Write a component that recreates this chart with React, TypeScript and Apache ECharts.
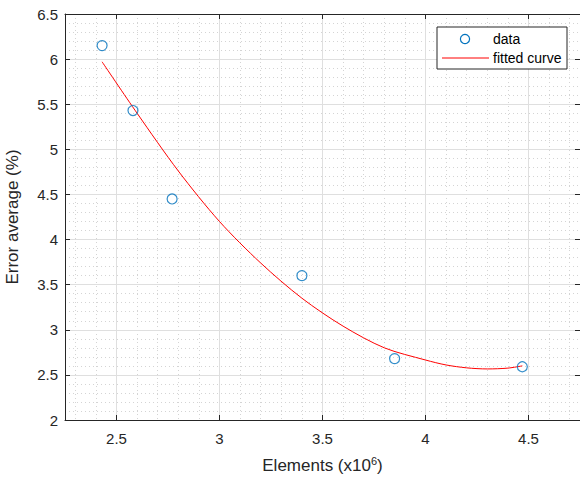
import React, { useEffect, useRef } from "react";
import * as echarts from "echarts";

const dataX = [2.43, 2.58, 2.77, 3.4, 3.85, 4.47];
const dataY = [6.15, 5.43, 4.45, 3.6, 2.68, 2.59];

const curveX = [2.43, 2.6, 2.8, 3.0, 3.2, 3.4, 3.6, 3.8, 4.0, 4.1, 4.2, 4.3, 4.4, 4.47];
const curveY = [5.97, 5.4, 4.76, 4.2, 3.74, 3.35, 3.04, 2.8, 2.665, 2.61, 2.578, 2.566, 2.575, 2.6];

const xMajorTicks = [2.5, 3, 3.5, 4, 4.5];
const xMinorTicks = [2.3, 2.4, 2.5, 2.6, 2.7, 2.8, 2.9, 3.0, 3.1, 3.2, 3.3, 3.4, 3.5, 3.6, 3.7, 3.8, 3.9, 4.0, 4.1, 4.2, 4.3, 4.4, 4.5, 4.6, 4.7];

const legendLabels = ["data", "fitted curve"];
const xTitle = "Elements (x10{sup|6})";
const yTitle = "Error average (%)";

const FONT = "'Liberation Sans', Arial, Helvetica, sans-serif";
const AX = "#262626";
const BLUE = "#0072BD";
const RED = "#FF0000";

export default function App() {
  const ref = useRef<HTMLDivElement>(null);
  useEffect(() => {
    if (!ref.current) return;
    const chart = echarts.init(ref.current, undefined, { renderer: "svg" });
    const xRange = { min: 2.25, max: 4.75 };
    chart.setOption({
      animation: false,
      backgroundColor: "#fff",
      textStyle: { fontFamily: FONT },
      grid: { left: 65, top: 14, right: 0, bottom: 59, containLabel: false, outerBoundsMode: "none" },
      xAxis: [
        {
          type: "value",
          ...xRange,
          position: "bottom",
          name: xTitle,
          nameLocation: "middle",
          nameGap: 35,
          nameTextStyle: {
            fontSize: 17,
            color: AX,
            fontFamily: FONT,
            rich: { sup: { fontSize: 11, color: AX, fontFamily: FONT, verticalAlign: "top", padding: [0, 0, 10, 0] } },
          },
          axisLine: { show: true, lineStyle: { color: AX, width: 1 } },
          axisTick: { show: true, inside: true, length: 5, customValues: xMajorTicks, lineStyle: { color: AX } },
          axisLabel: { show: true, customValues: xMajorTicks, fontSize: 15, color: AX, margin: 11, fontFamily: FONT },
          splitLine: { show: true, lineStyle: { color: "#dfdfdf", width: 1 } },
          z: 3,
        },
        {
          type: "value",
          ...xRange,
          position: "bottom",
          axisLine: { show: false },
          axisTick: { show: false, customValues: xMinorTicks },
          axisLabel: { show: false },
          splitLine: { show: true, lineStyle: { color: "#d4d4d4", width: 1, type: [1, 3] } },
          z: 1,
        },
        {
          type: "value",
          ...xRange,
          position: "top",
          axisLine: { show: true, lineStyle: { color: AX, width: 1 } },
          axisTick: { show: true, inside: true, length: 5, customValues: xMajorTicks, lineStyle: { color: AX } },
          axisLabel: { show: false },
          splitLine: { show: false },
          z: 3,
        },
      ],
      yAxis: [
        {
          type: "value",
          min: 2,
          max: 6.5,
          interval: 0.5,
          position: "left",
          name: yTitle,
          nameLocation: "middle",
          nameGap: 44,
          nameTextStyle: { fontSize: 17, color: AX, fontFamily: FONT },
          axisLine: { show: true, lineStyle: { color: AX, width: 1 } },
          axisTick: { show: true, inside: true, length: 5, lineStyle: { color: AX } },
          axisLabel: { fontSize: 15, color: AX, margin: 7, fontFamily: FONT },
          splitLine: { show: true, lineStyle: { color: "#dfdfdf", width: 1 } },
          minorTick: { show: false, splitNumber: 5 },
          minorSplitLine: { show: true, lineStyle: { color: "#d4d4d4", width: 1, type: [1, 3] } },
          z: 3,
        },
        {
          type: "value",
          min: 2,
          max: 6.5,
          interval: 0.5,
          position: "right",
          axisLine: { show: true, lineStyle: { color: AX, width: 1 } },
          axisTick: { show: true, inside: true, length: 5, lineStyle: { color: AX } },
          axisLabel: { show: false },
          splitLine: { show: false },
          z: 3,
        },
      ],
      series: [
        {
          name: legendLabels[1],
          type: "line",
          xAxisIndex: 0,
          yAxisIndex: 0,
          data: curveX.map((x, i) => [x, curveY[i]]),
          smooth: 0.3,
          showSymbol: false,
          symbol: "none",
          lineStyle: { color: RED, width: 1 },
          z: 4,
        },
        {
          name: legendLabels[0],
          type: "scatter",
          xAxisIndex: 0,
          yAxisIndex: 0,
          data: dataX.map((x, i) => [x, dataY[i]]),
          symbol: "circle",
          symbolSize: 10,
          itemStyle: { color: "rgba(0,0,0,0)", borderColor: BLUE, borderWidth: 1.2 },
          z: 5,
        },
      ],
      graphic: [
        {
          type: "rect",
          z: 100,
          shape: { x: 437, y: 27, width: 130, height: 42 },
          style: { fill: "#fff", stroke: AX, lineWidth: 1 },
        },
        {
          type: "circle",
          z: 101,
          shape: { cx: 465, cy: 39, r: 4.6 },
          style: { fill: "none", stroke: BLUE, lineWidth: 1.2 },
        },
        {
          type: "line",
          z: 101,
          shape: { x1: 442, y1: 58, x2: 489, y2: 58 },
          style: { stroke: RED, lineWidth: 1 },
        },
        {
          type: "text",
          z: 101,
          x: 493,
          y: 39,
          style: { text: legendLabels[0], fontSize: 14, fontFamily: FONT, fill: "#000", verticalAlign: "middle", align: "left" },
        },
        {
          type: "text",
          z: 101,
          x: 493,
          y: 58,
          style: { text: legendLabels[1], fontSize: 14, fontFamily: FONT, fill: "#000", verticalAlign: "middle", align: "left" },
        },
      ],
    });
    return () => chart.dispose();
  }, []);
  return <div ref={ref} style={{ position: "fixed", left: 0, top: 0, width: 580, height: 479 }} />;
}
